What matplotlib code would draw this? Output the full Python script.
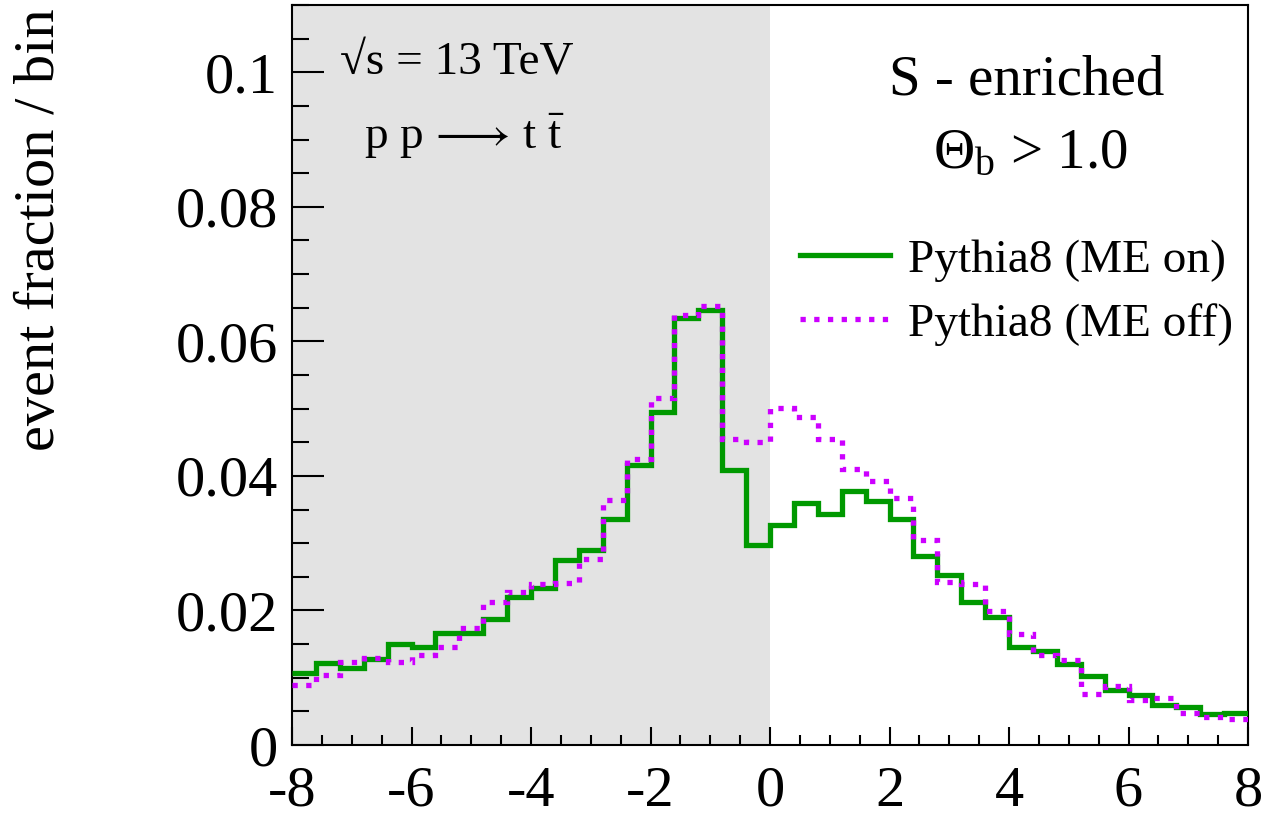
import numpy as np
import matplotlib
matplotlib.use("Agg")
import matplotlib.pyplot as plt
from matplotlib.ticker import MultipleLocator, FixedLocator, FixedFormatter

plt.rcParams['font.family'] = ['Liberation Serif', 'DejaVu Serif']
plt.rcParams['mathtext.fontset'] = 'custom'
plt.rcParams['mathtext.rm'] = 'Liberation Serif'
plt.rcParams['mathtext.it'] = 'Liberation Serif:italic'
plt.rcParams['axes.unicode_minus'] = False

# 40 bins of width 0.4 between -8 and 8
bin_edges = np.linspace(-8, 8, 41)

me_on = [0.0107, 0.0122, 0.0114, 0.0128, 0.0150, 0.0146, 0.0167, 0.0167,
         0.0188, 0.0220, 0.0233, 0.0275, 0.0290, 0.0336, 0.0416, 0.0495,
         0.0635, 0.0646, 0.0409, 0.0297, 0.0327, 0.0359, 0.0343, 0.0377,
         0.0362, 0.0336, 0.0281, 0.0253, 0.0213, 0.0191, 0.0145, 0.0139,
         0.0121, 0.0102, 0.0082, 0.0075, 0.0059, 0.0056, 0.0046, 0.0048]

me_off = [0.0089, 0.0104, 0.0124, 0.0129, 0.0123, 0.0134, 0.0146, 0.0174,
          0.0212, 0.0228, 0.0239, 0.0241, 0.0277, 0.0364, 0.0425, 0.0516,
          0.0639, 0.0652, 0.0455, 0.0450, 0.0501, 0.0488, 0.0455, 0.0411,
          0.0393, 0.0367, 0.0304, 0.0242, 0.0240, 0.0199, 0.0165, 0.0134,
          0.0127, 0.0076, 0.0087, 0.0067, 0.0070, 0.0048, 0.0042, 0.0039]

ytick_vals = [0, 0.02, 0.04, 0.06, 0.08, 0.1]
ytick_labels = ['0', '0.02', '0.04', '0.06', '0.08', '0.1']

fig = plt.figure(figsize=(12.84, 8.23), dpi=100)
ax = fig.add_axes([292 / 1284, 78 / 823, 956 / 1284, 740 / 823])

ax.axvspan(-8, 0, color='#e3e3e3', lw=0, zorder=0)

green = '#009900'
magenta = '#cc00ff'
ax.stairs(me_on, bin_edges, baseline=None, color=green, lw=3.8,
          label='Pythia8 (ME on)', zorder=3)
ax.stairs(me_off, bin_edges, baseline=None, color=magenta, lw=3.8,
          linestyle=(0, (1, 1.6)), label='Pythia8 (ME off)', zorder=4)

ax.set_xlim(-8, 8)
ax.set_ylim(0, 0.11)

ax.xaxis.set_major_locator(MultipleLocator(2))
ax.xaxis.set_minor_locator(MultipleLocator(0.5))
ax.yaxis.set_major_locator(FixedLocator(ytick_vals))
ax.yaxis.set_major_formatter(FixedFormatter(ytick_labels))
ax.yaxis.set_minor_locator(MultipleLocator(0.005))

ax.tick_params(which='both', direction='in', top=False, right=False,
               labelsize=42, width=1.5)
ax.tick_params(axis='x', which='major', length=13, pad=15)
ax.tick_params(axis='x', which='minor', length=7)
ax.tick_params(axis='y', which='major', length=23, pad=10)
ax.tick_params(axis='y', which='minor', length=12)
for s in ax.spines.values():
    s.set_linewidth(1.5)

ax.set_ylabel('event fraction / bin', fontsize=42, loc='top')
ax.yaxis.set_label_coords(-0.236, 0.996)

ax.text(-7.2, 0.1015, '√s = 13 TeV', fontsize=34, va='center', ha='left')
ax.text(-6.8, 0.0905, r'p p$\,\longrightarrow\,$t $\bar{\mathrm{t}}$',
        fontsize=34, va='center', ha='left')
ax.text(4.3, 0.0988, 'S - enriched', fontsize=41, va='center', ha='center')
ax.text(4.35, 0.0878, r'$\Theta_{\mathrm{b}}$ > 1.0', fontsize=41,
        va='center', ha='center')

ax.legend(loc='upper left', bbox_to_anchor=(0.512, 0.71), frameon=False,
          fontsize=34, handlelength=1.9, handletextpad=0.38,
          labelspacing=0.45, borderaxespad=0)

fig.savefig('out.png', dpi=100)
